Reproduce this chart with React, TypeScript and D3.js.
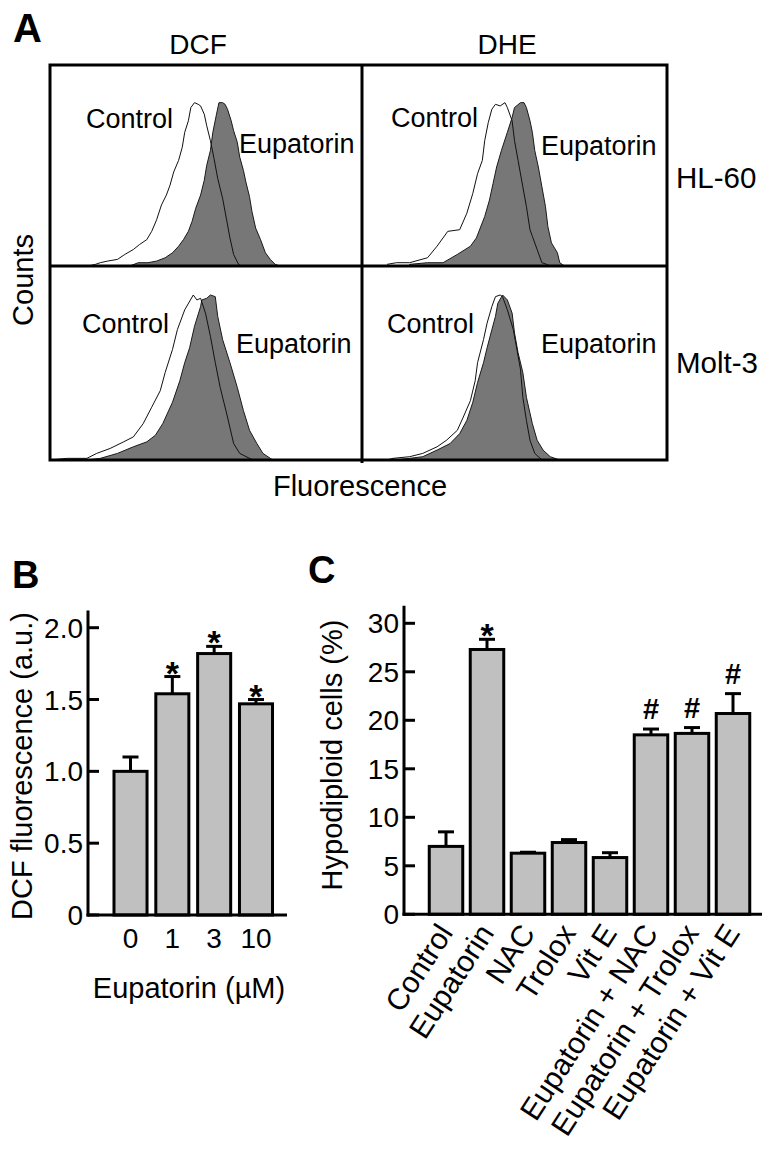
import React from "react";
import * as d3 from "d3";

type Pt = [number, number];

// ---------- Panel A: flow-cytometry histograms [channel (0-256), counts (0-100)] ----------
const dcfHL60Control: Pt[] = [
  [32, 0], [38, 1], [42, 2], [48, 3], [56, 4], [62, 7], [69, 10], [74, 13], [80, 16], [84, 21],
  [88, 28], [92, 37], [96, 43], [99, 49], [102, 57], [106, 64], [109, 72], [111, 81], [114, 88],
  [116, 96], [119, 99], [122, 98], [124, 97], [127, 92], [129, 85], [132, 76], [135, 65],
  [138, 53], [142, 41], [145, 29], [148, 17], [151, 7], [155, 1], [157, 0],
];
const dcfHL60Eupatorin: Pt[] = [
  [66, 0], [73, 2], [81, 2], [88, 3], [95, 5], [101, 8], [106, 12], [110, 16], [114, 21], [117, 27],
  [120, 35], [124, 43], [127, 52], [129, 61], [132, 70], [134, 81], [137, 92], [139, 99], [142, 99],
  [144, 98], [146, 95], [149, 88], [151, 82], [154, 75], [156, 66], [159, 58], [161, 51], [164, 42],
  [166, 33], [169, 23], [173, 16], [177, 8], [181, 4], [185, 1], [189, 0],
];
const dcfMolt3Control: Pt[] = [
  [1, 0], [15, 1], [31, 1], [39, 4], [50, 7], [61, 11], [69, 14], [77, 22], [84, 32], [91, 42],
  [95, 53], [101, 67], [105, 79], [111, 91], [118, 100], [121, 97], [124, 98], [128, 89], [132, 75],
  [136, 59], [140, 44], [146, 26], [151, 10], [156, 4], [164, 1], [167, 0],
];
const dcfMolt3Eupatorin: Pt[] = [
  [31, 0], [42, 1], [56, 4], [69, 8], [80, 11], [87, 15], [93, 22], [101, 35], [107, 48], [111, 59],
  [115, 68], [119, 81], [124, 93], [125, 97], [129, 98], [132, 100], [136, 99], [138, 87], [142, 73],
  [148, 59], [154, 44], [159, 30], [164, 18], [170, 10], [175, 4], [181, 1], [183, 0],
];
const dheHL60Control: Pt[] = [
  [21, 1], [29, 2], [40, 2], [55, 5], [63, 12], [72, 21], [82, 22], [88, 32], [93, 44], [97, 56],
  [101, 64], [103, 76], [106, 87], [109, 95], [112, 98], [116, 97], [120, 99], [122, 96], [126, 88],
  [128, 76], [131, 64], [135, 48], [138, 36], [141, 22], [143, 18], [147, 10], [151, 2], [155, 1], [158, 0],
];
const dheHL60Eupatorin: Pt[] = [
  [40, 1], [55, 2], [68, 2], [80, 7], [91, 12], [96, 17], [103, 30], [107, 40], [110, 50], [113, 60],
  [117, 70], [122, 81], [126, 90], [128, 96], [133, 99], [136, 99], [138, 96], [141, 88], [143, 81],
  [145, 70], [148, 60], [151, 48], [154, 36], [156, 24], [159, 14], [164, 8], [166, 2], [168, 1], [170, 0],
];
const dheMolt3Control: Pt[] = [
  [21, 0], [26, 1], [40, 2], [51, 4], [63, 8], [71, 12], [80, 18], [85, 26], [91, 36], [95, 48],
  [97, 59], [102, 73], [105, 83], [109, 93], [112, 99], [116, 100], [118, 99], [122, 91], [127, 79],
  [130, 67], [133, 55], [135, 38], [138, 24], [141, 12], [145, 4], [151, 0],
];
const dheMolt3Eupatorin: Pt[] = [
  [26, 0], [40, 1], [51, 2], [63, 6], [74, 10], [82, 16], [88, 24], [93, 35], [97, 47], [102, 59],
  [105, 68], [109, 79], [112, 87], [114, 95], [118, 100], [122, 97], [126, 89], [128, 77], [131, 65],
  [135, 53], [138, 38], [143, 22], [147, 12], [152, 6], [158, 2], [166, 0],
];

const probes = ["DCF", "DHE"];
const cellLines = ["HL-60", "Molt-3"];
const histControl = [
  [dcfHL60Control, dheHL60Control],
  [dcfMolt3Control, dheMolt3Control],
];
const histEupatorin = [
  [dcfHL60Eupatorin, dheHL60Eupatorin],
  [dcfMolt3Eupatorin, dheMolt3Eupatorin],
];

// ---------- Panel B ----------
const bDoses = ["0", "1", "3", "10"];
const bMeans = [1.0, 1.54, 1.82, 1.47];
const bErrors = [0.1, 0.12, 0.05, 0.03];
const bMarks = ["", "*", "*", "*"];
const bYTicks = [0, 0.5, 1.0, 1.5, 2.0];
const bYTickLabels = ["0", "0.5", "1.0", "1.5", "2.0"];

// ---------- Panel C ----------
const cGroups = [
  "Control", "Eupatorin", "NAC", "Trolox", "Vit E",
  "Eupatorin + NAC", "Eupatorin + Trolox", "Eupatorin + Vit E",
];
const cMeans = [7.0, 27.3, 6.3, 7.4, 5.85, 18.5, 18.65, 20.7];
const cErrors = [1.5, 1.05, 0.1, 0.3, 0.5, 0.6, 0.6, 2.05];
const cMarks = ["", "*", "", "", "", "#", "#", "#"];
const cYTicks = [0, 5, 10, 15, 20, 25, 30];

const FONT = "'Liberation Sans', Arial, Helvetica, sans-serif";

function PanelA() {
  const colX = [49, 362, 667];
  const rowY = [65, 266, 460];
  const peakH = 165;
  const cells: React.ReactNode[] = [];
  for (let r = 0; r < 2; r++) {
    for (let c = 0; c < 2; c++) {
      const x = d3.scaleLinear().domain([0, 256]).range([colX[c], colX[c + 1]]);
      const y = d3.scaleLinear().domain([0, 100]).range([rowY[r + 1], rowY[r + 1] - peakH]);
      const area = d3
        .area<Pt>()
        .x((d) => x(d[0]))
        .y0(y(0))
        .y1((d) => y(d[1]));
      const line = d3
        .line<Pt>()
        .x((d) => x(d[0]))
        .y((d) => y(d[1]));
      cells.push(
        <g key={`cell-${r}-${c}`}>
          <path d={area(histEupatorin[r][c]) || ""} fill="#777777" stroke="#1a1a1a" strokeWidth={1} />
          <path d={line(histControl[r][c]) || ""} fill="none" stroke="#111" strokeWidth={1} />
        </g>
      );
    }
  }
  const labelPos = [
    [
      { cx: 87, cy: 128, ex: 240, ey: 153 },
      { cx: 392, cy: 127, ex: 542, ey: 155 },
    ],
    [
      { cx: 83, cy: 333, ex: 237, ey: 353 },
      { cx: 388, cy: 333, ex: 542, ey: 353 },
    ],
  ];
  return (
    <g>
      {cells}
      {labelPos.map((row, r) =>
        row.map((p, c) => (
          <g key={`lab-${r}-${c}`} fontSize={27}>
            <text x={p.cx - 1} y={p.cy}>Control</text>
            <text x={p.ex - 1} y={p.ey}>Eupatorin</text>
          </g>
        ))
      )}
      <rect x={50} y={65} width={617} height={395} fill="none" stroke="#000" strokeWidth={3} />
      <line x1={362} x2={362} y1={65} y2={463} stroke="#000" strokeWidth={3} />
      <line x1={50} x2={667} y1={266} y2={266} stroke="#000" strokeWidth={3} />
      <text x={198} y={54} fontSize={28} textAnchor="middle">{probes[0]}</text>
      <text x={507} y={54} fontSize={28} textAnchor="middle">{probes[1]}</text>
      <text x={676} y={188} fontSize={29.5}>{cellLines[0]}</text>
      <text x={676} y={373} fontSize={29.5}>{cellLines[1]}</text>
      <text transform="translate(33,280) rotate(-90)" fontSize={29} textAnchor="middle">Counts</text>
      <text x={360} y={496} fontSize={29} textAnchor="middle">Fluorescence</text>
      <text x={13} y={42} fontSize={40} fontWeight="bold">A</text>
    </g>
  );
}

function PanelB() {
  const axisX = 88;
  const y = d3.scaleLinear().domain([0, 2]).range([915, 627.7]);
  const x = d3.scaleBand<string>().domain(bDoses).range([109.6, 276.9]).paddingInner(0.21).paddingOuter(0.105);
  const bw = x.bandwidth();
  return (
    <g>
      {bDoses.map((d, i) => {
        const x0 = x(d) as number;
        const cx = x0 + bw / 2;
        const top = y(bMeans[i]);
        const eTop = y(bMeans[i] + bErrors[i]);
        return (
          <g key={d}>
            <line x1={cx} x2={cx} y1={top} y2={eTop} stroke="#000" strokeWidth={3} />
            <line x1={cx - 8} x2={cx + 8} y1={eTop} y2={eTop} stroke="#000" strokeWidth={3} />
            <rect x={x0} y={top} width={bw} height={y(0) - top} fill="#c0c0c0" stroke="#000" strokeWidth={3} />
            {bMarks[i] && (
              <text x={cx} y={eTop + 8} fontSize={34} fontWeight="bold" textAnchor="middle">{bMarks[i]}</text>
            )}
            <text x={cx} y={948} fontSize={28} textAnchor="middle">{d}</text>
          </g>
        );
      })}
      <line x1={axisX} x2={axisX} y1={y(0) + 1.5} y2={y(2.12)} stroke="#000" strokeWidth={3} />
      <line x1={axisX - 1.5} x2={287} y1={y(0)} y2={y(0)} stroke="#000" strokeWidth={3} />
      {bYTicks.map((t, i) => (
        <g key={t}>
          <line x1={axisX} x2={axisX + 11} y1={y(t)} y2={y(t)} stroke="#000" strokeWidth={3} />
          <text x={83} y={y(t)} dy="0.36em" fontSize={28} textAnchor="end">{bYTickLabels[i]}</text>
        </g>
      ))}
      <text x={189} y={998} fontSize={29} textAnchor="middle">Eupatorin (µM)</text>
      <text transform="translate(32,766) rotate(-90)" fontSize={29} textAnchor="middle">DCF fluorescence (a.u.)</text>
      <text x={12} y={588} fontSize={38} fontWeight="bold">B</text>
    </g>
  );
}

function PanelC() {
  const axisX = 404;
  const y = d3.scaleLinear().domain([0, 30]).range([914.3, 623.3]);
  const x = d3.scaleBand<string>().domain(cGroups).range([425.5, 753.5]).paddingInner(0.183).paddingOuter(0.0915);
  const bw = x.bandwidth();
  return (
    <g>
      {cGroups.map((g, i) => {
        const x0 = x(g) as number;
        const cx = x0 + bw / 2;
        const top = y(cMeans[i]);
        const eTop = y(cMeans[i] + cErrors[i]);
        return (
          <g key={g}>
            <line x1={cx} x2={cx} y1={top} y2={eTop} stroke="#000" strokeWidth={3} />
            <line x1={cx - 8} x2={cx + 8} y1={eTop} y2={eTop} stroke="#000" strokeWidth={3} />
            <rect x={x0} y={top} width={bw} height={y(0) - top} fill="#c0c0c0" stroke="#000" strokeWidth={3} />
            {cMarks[i] === "*" && (
              <text x={cx} y={eTop + 8} fontSize={34} fontWeight="bold" textAnchor="middle">*</text>
            )}
            {cMarks[i] === "#" && (
              <text x={cx} y={eTop - 10} fontSize={29} fontWeight="bold" textAnchor="middle">#</text>
            )}
            <text
              transform={`translate(${cx + 8},933) rotate(-57)`}
              fontSize={30}
              textAnchor="end"
            >
              {g}
            </text>
          </g>
        );
      })}
      <line x1={axisX} x2={axisX} y1={y(0) + 1.5} y2={y(31.8)} stroke="#000" strokeWidth={3} />
      <line x1={axisX - 1.5} x2={762} y1={y(0)} y2={y(0)} stroke="#000" strokeWidth={3} />
      {cYTicks.map((t) => (
        <g key={t}>
          <line x1={axisX} x2={axisX + 11} y1={y(t)} y2={y(t)} stroke="#000" strokeWidth={3} />
          <text x={399} y={y(t)} dy="0.36em" fontSize={28} textAnchor="end">{t}</text>
        </g>
      ))}
      <text transform="translate(342,755) rotate(-90)" fontSize={29} textAnchor="middle">Hypodiploid cells (%)</text>
      <text x={308} y={583} fontSize={38} fontWeight="bold">C</text>
    </g>
  );
}

export default function App() {
  return (
    <svg
      width={770}
      height={1152}
      viewBox="0 0 770 1152"
      style={{ position: "absolute", left: 0, top: 0, background: "#fff" }}
      fontFamily={FONT}
      fill="#000"
    >
      <rect x={0} y={0} width={770} height={1152} fill="#fff" />
      <PanelA />
      <PanelB />
      <PanelC />
    </svg>
  );
}
